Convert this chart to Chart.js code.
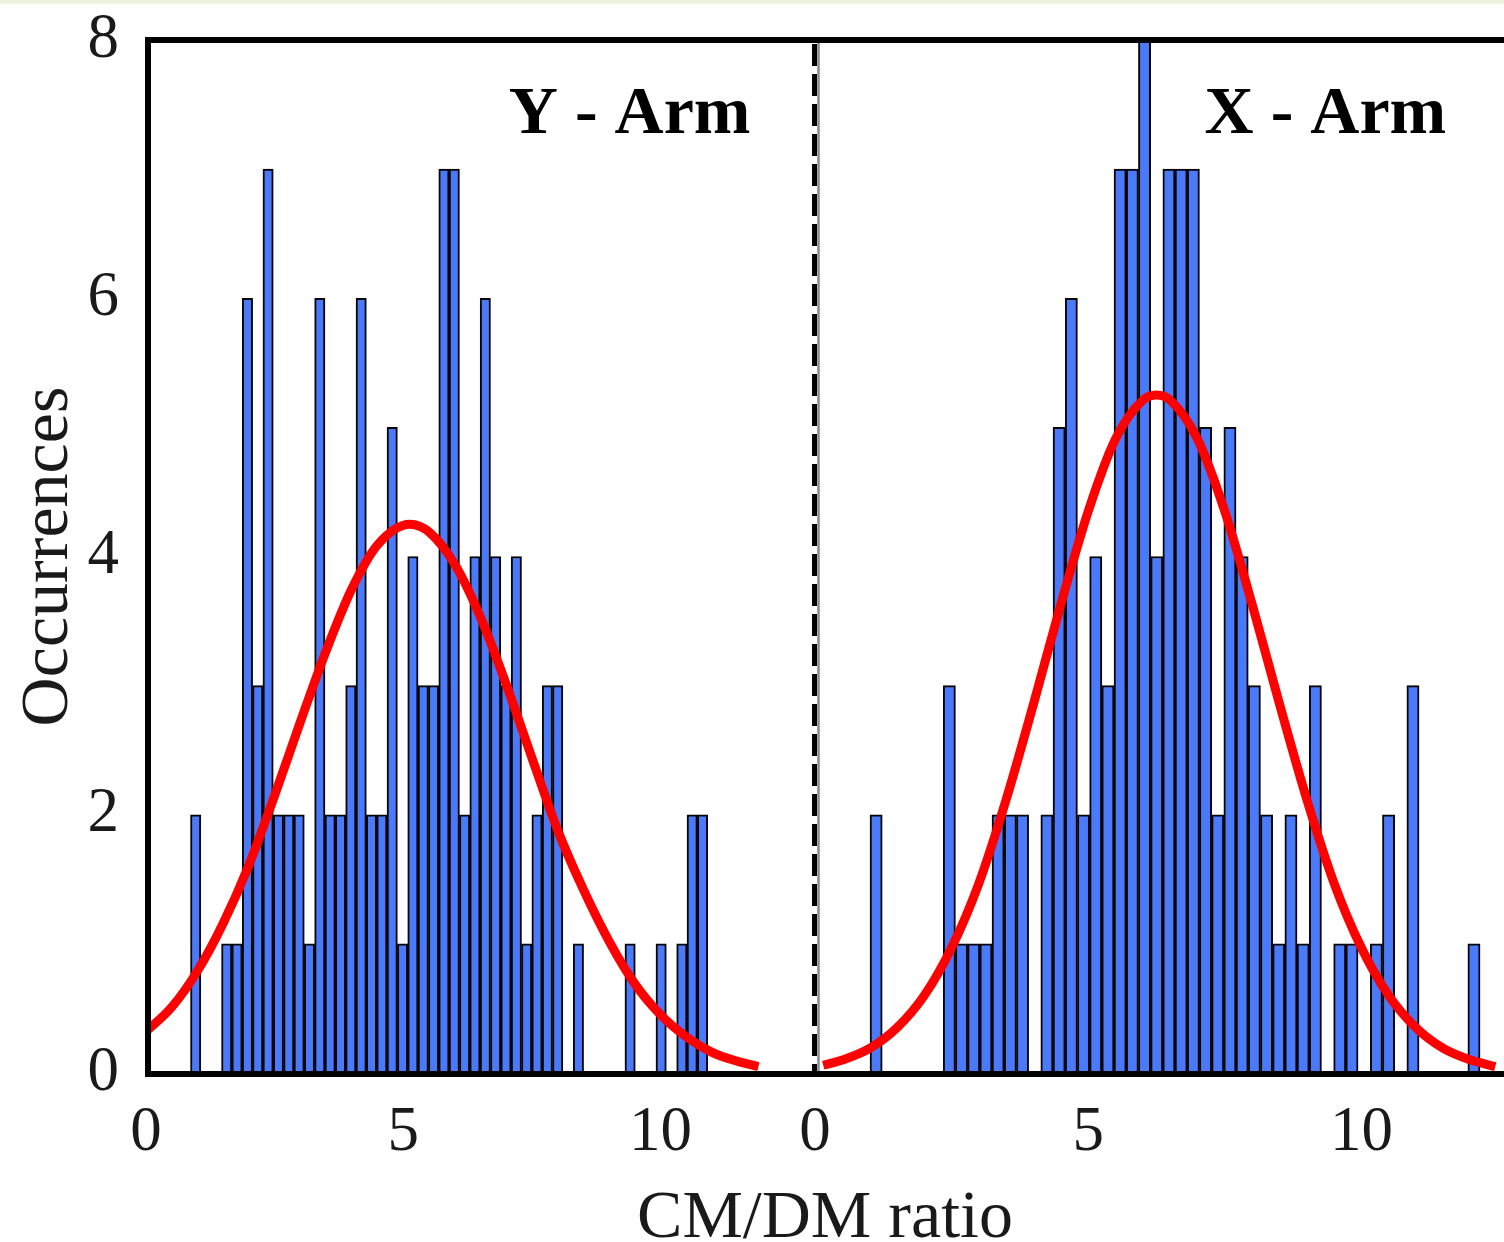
<!DOCTYPE html>
<html>
<head>
<meta charset="utf-8">
<title>CM/DM ratio</title>
<script src="https://cdn.jsdelivr.net/npm/chart.js@4.4.1/dist/chart.umd.min.js"></script>
<style>
    html, body { margin: 0; padding: 0; background: #fff; }
    canvas { display: block; }
</style>
</head>
<body>
<canvas id="ratioChart" width="1504" height="1242"></canvas>
<script>
// histogram counts, 50 bins per arm
const yArmCounts = [
    2, 0, 0, 1, 1, 6, 3, 7, 2, 2,
    2, 1, 6, 2, 2, 3, 6, 2, 2, 5,
    1, 4, 3, 3, 7, 7, 2, 4, 6, 4,
    3, 4, 1, 2, 3, 3, 0, 1, 0, 0,
    0, 0, 1, 0, 0, 1, 0, 1, 2, 2
];
const xArmCounts = [
    2, 0, 0, 0, 0, 0, 3, 1, 1, 1,
    2, 2, 2, 0, 2, 5, 6, 2, 4, 3,
    7, 7, 8, 4, 7, 7, 7, 5, 2, 5,
    4, 3, 2, 1, 2, 1, 3, 0, 1, 1,
    0, 1, 2, 0, 3, 0, 0, 0, 0, 1
];
// first bin edge and bin width of each histogram
const yArmBins = [0.865, 0.201];
const xArmBins = [1.007, 0.2233];

// normal fits
const yArmFitX = [0, 0.5, 1, 1.5, 2, 2.5, 3, 3.5, 4, 4.5, 5.13, 5.5, 6, 6.5, 7, 7.5, 8, 8.5, 9, 9.5, 10, 10.5, 11, 11.5, 11.9];
const yArmFitY = [0.32, 0.51, 0.79, 1.16, 1.61, 2.15, 2.72, 3.27, 3.75, 4.09, 4.25, 4.19, 3.94, 3.53, 3.01, 2.44, 1.88, 1.42, 1.02, 0.69, 0.45, 0.28, 0.16, 0.09, 0.05];
const xArmFitX = [0.15, 0.5, 1, 1.5, 2, 2.5, 3, 3.5, 4, 4.5, 5, 5.5, 6, 6.25, 6.5, 7, 7.5, 8, 8.5, 9, 9.5, 10, 10.5, 11, 11.5, 12, 12.45];
const xArmFitY = [0.06, 0.10, 0.19, 0.35, 0.60, 0.97, 1.47, 2.12, 2.86, 3.63, 4.35, 4.91, 5.21, 5.25, 5.21, 4.91, 4.35, 3.63, 2.86, 2.12, 1.47, 0.97, 0.60, 0.35, 0.19, 0.10, 0.05];

const yTicks = [0, 2, 4, 6, 8];
const xTicks = [0, 5, 10];
const panelNames = ['Y - Arm', 'X - Arm'];

const serif = "'Liberation Serif', 'Times New Roman', serif";
const textColor = '#1a1a1a';

function binPoints(counts, bins) {
    return counts.map((c, i) => ({ x: bins[0] + bins[1] * (i + 0.5), y: c }));
}

function fitPoints(xs, ys) {
    return xs.map((x, i) => ({ x: x, y: ys[i] }));
}

// tick labels may hang over the plot edges, keep them out of the layout
function noEdgePadding(s) {
    s.paddingTop = 0;
    s.paddingBottom = 0;
    s.paddingLeft = 0;
    s.paddingRight = 0;
}

const barStyle = {
    type: 'bar',
    backgroundColor: 'rgb(74, 122, 250)',
    borderColor: '#050505',
    borderWidth: 2,
    barPercentage: 1,
    categoryPercentage: 1,
    grouped: false
};

const lineStyle = {
    type: 'line',
    borderColor: '#ff0000',
    borderWidth: 9,
    pointRadius: 0,
    fill: false,
    cubicInterpolationMode: 'monotone'
};

function xAxis(max, weight) {
    return {
        type: 'linear',
        position: 'bottom',
        stack: 'ratio',
        stackWeight: weight,
        min: 0,
        max: max,
        offset: false,
        grid: { display: false },
        border: { display: false },
        afterBuildTicks: s => { s.ticks = xTicks.map(v => ({ value: v })); },
        afterFit: s => { s.height = 169; noEdgePadding(s); },
        ticks: {
            padding: 15,
            maxRotation: 0,
            autoSkip: false,
            color: textColor,
            font: { family: serif, size: 63 }
        }
    };
}

// frame, dashed divider and text annotations
const armFrame = {
    id: 'armFrame',
    beforeDraw(chart) {
        const ctx = chart.ctx;
        ctx.save();
        ctx.fillStyle = '#eef2e0';
        ctx.fillRect(0, 0, chart.width, 4);
        ctx.restore();
    },
    afterDatasetsDraw(chart) {
        const { ctx, chartArea: area, scales } = chart;
        const split = scales.xR.left;
        ctx.save();

        ctx.strokeStyle = '#8a8a8a';
        ctx.lineWidth = 2.5;
        ctx.beginPath();
        ctx.moveTo(split + 3.5, area.top);
        ctx.lineTo(split + 3.5, area.bottom);
        ctx.stroke();

        ctx.strokeStyle = '#000';
        ctx.lineWidth = 5;
        ctx.setLineDash([22, 8]);
        ctx.beginPath();
        ctx.moveTo(split - 0.5, area.top + 4);
        ctx.lineTo(split - 0.5, area.bottom);
        ctx.stroke();

        ctx.setLineDash([]);
        ctx.lineWidth = 6;
        ctx.beginPath();
        ctx.moveTo(area.right + 5, area.top);
        ctx.lineTo(area.left + 2, area.top);
        ctx.lineTo(area.left + 2, area.bottom + 1);
        ctx.lineTo(area.right + 5, area.bottom + 1);
        ctx.stroke();

        ctx.fillStyle = '#000';
        ctx.font = 'bold 68px ' + serif;
        ctx.textAlign = 'left';
        ctx.textBaseline = 'alphabetic';
        const ty = scales.y.getPixelForValue(7.28);
        ctx.fillText(panelNames[0], scales.xL.getPixelForValue(7.05), ty);
        ctx.fillText(panelNames[1], scales.xR.getPixelForValue(7.13), ty);

        ctx.fillStyle = textColor;
        ctx.font = '68px ' + serif;
        ctx.textAlign = 'center';
        ctx.fillText('CM/DM ratio', split + 10, 1237);

        ctx.translate(67, (area.top + area.bottom) / 2);
        ctx.rotate(-Math.PI / 2);
        ctx.fillText('Occurrences', 0, 0);
        ctx.restore();
    }
};

const data = {
    datasets: [
        Object.assign({ label: 'Y - Arm fit', data: fitPoints(yArmFitX, yArmFitY), xAxisID: 'xL' }, lineStyle),
        Object.assign({ label: 'X - Arm fit', data: fitPoints(xArmFitX, xArmFitY), xAxisID: 'xR' }, lineStyle),
        Object.assign({ label: 'Y - Arm', data: binPoints(yArmCounts, yArmBins), xAxisID: 'xL' }, barStyle),
        Object.assign({ label: 'X - Arm', data: binPoints(xArmCounts, xArmBins), xAxisID: 'xR' }, barStyle)
    ]
};

const config = {
    type: 'bar',
    data: data,
    options: {
        responsive: false,
        animation: false,
        layout: { padding: { top: 40, right: 0, bottom: 0, left: 0 } },
        plugins: {
            legend: { display: false },
            tooltip: { enabled: false }
        },
        scales: {
            y: {
                position: 'left',
                min: 0,
                max: 8,
                grid: { display: false },
                border: { display: false },
                afterBuildTicks: s => { s.ticks = yTicks.map(v => ({ value: v })); },
                afterFit: s => { s.width = 146; noEdgePadding(s); },
                ticks: {
                    padding: 19,
                    color: textColor,
                    font: { family: serif, size: 63 }
                }
            },
            xL: xAxis(13, 669),
            xR: xAxis(12.61, 689)
        }
    },
    plugins: [armFrame]
};

var myChart = new Chart(
    document.getElementById('ratioChart'),
    config
);
</script>
</body>
</html>
